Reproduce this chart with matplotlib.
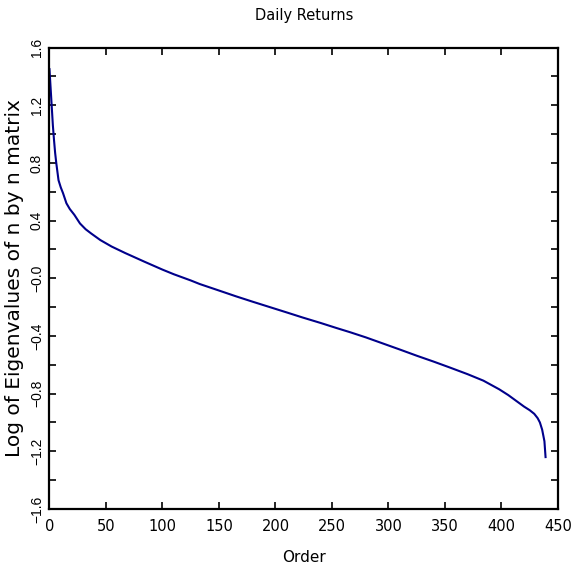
import numpy as np
import matplotlib
matplotlib.use("Agg")
import matplotlib.pyplot as plt
from matplotlib.ticker import MultipleLocator, FuncFormatter

# eigenvalue order (sorted, largest first) and log eigenvalue
order = [0, 1, 2, 3, 4, 5, 6, 8, 10, 12, 15, 18, 22, 27, 32, 37, 45, 55, 67, 84,
         100, 110, 125, 133, 150, 165, 180, 195, 210, 224, 240, 254, 266, 280,
         295, 310, 325, 340, 354, 370, 384, 398, 406, 413, 420, 425, 429, 432,
         434, 436, 437, 438, 439]
log_eig = [1.45, 1.32, 1.19, 1.06, 0.96, 0.87, 0.80, 0.68, 0.63, 0.59, 0.52, 0.48,
           0.44, 0.38, 0.34, 0.31, 0.265, 0.22, 0.175, 0.115, 0.06, 0.028,
           -0.015, -0.04, -0.085, -0.125, -0.163, -0.20, -0.237, -0.272, -0.31,
           -0.345, -0.374, -0.41, -0.452, -0.494, -0.537, -0.578, -0.618,
           -0.665, -0.71, -0.77, -0.81, -0.85, -0.89, -0.915, -0.94, -0.97,
           -1.0, -1.05, -1.09, -1.13, -1.24]

x_ticks = [0, 50, 100, 150, 200, 250, 300, 350, 400, 450]

narrow = ["Liberation Sans Narrow", "DejaVu Sans"]

fig = plt.figure(figsize=(5.72, 5.66), dpi=100)
ax = fig.add_axes([0.0865, 0.1007, 0.889, 0.8153])

ax.plot(order, log_eig, color="#00008b", lw=1.5)

ax.set_xlim(0, 450)
ax.set_ylim(-1.6, 1.6)
ax.set_xticks(x_ticks)
ax.yaxis.set_major_locator(MultipleLocator(0.4))
ax.yaxis.set_minor_locator(MultipleLocator(0.2))

def yfmt(v, pos):
    s = "%.1f" % abs(v)
    return ("\u2212" + s) if v < 0.05 else s

ax.yaxis.set_major_formatter(FuncFormatter(yfmt))

ax.tick_params(which="both", direction="in", top=True, right=True,
               length=5, width=1.2)
for sp in ax.spines.values():
    sp.set_linewidth(1.6)

for lbl in ax.get_yticklabels():
    lbl.set_rotation(90)
    lbl.set_va("center")
    lbl.set_fontsize(10)
    lbl.set_family(["Liberation Sans", "DejaVu Sans"])
for lbl in ax.get_xticklabels():
    lbl.set_fontsize(10.5)
    lbl.set_family(narrow)
ax.tick_params(axis="x", pad=7)
ax.tick_params(axis="y", pad=4)

ax.set_title("Daily Returns", fontsize=10.5, family=narrow, pad=20)
ax.set_xlabel("Order", fontsize=11, family=narrow, labelpad=12)
ax.set_ylabel("Log of Eigenvalues of n by n matrix", fontsize=14.5,
              family="DejaVu Sans", labelpad=4)

fig.savefig("out.png", dpi=100)
